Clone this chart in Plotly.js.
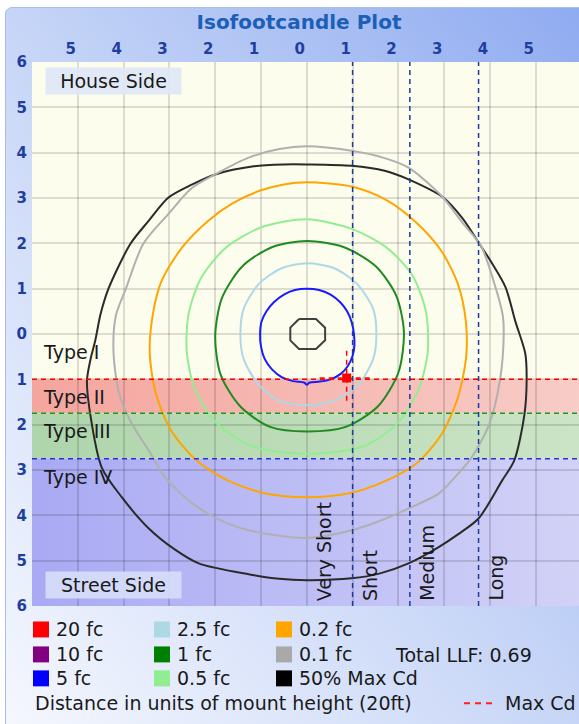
<!DOCTYPE html>
<html>
<head>
<meta charset="utf-8">
<script src="https://cdn.plot.ly/plotly-3.0.1.min.js"></script>
<style>
html,body{margin:0;padding:0;background:#ffffff;}
#wrap{position:relative;width:579px;height:724px;overflow:hidden;}
#frame{position:absolute;left:5px;top:7px;width:590px;height:730px;border:1px solid #a9bde9;border-radius:7px;
  background:linear-gradient(to top right,#f6f8fe 0%,#c6d5f7 50%,#8eaaf0 100%);}
#chart{position:absolute;left:0;top:0;width:579px;height:724px;}
</style>
</head>
<body>
<div id="wrap"><div id="frame"></div><div id="chart"></div></div>
<script>
// ---------------- data ----------------
const chartTitle = 'Isofootcandle Plot';
const gridVals  = [-6,-5,-4,-3,-2,-1,0,1,2,3,4,5,6];
const xTickText = ['','5','4','3','2','1','0','1','2','3','4','5',''];
const yTickText = ['6','5','4','3','2','1','0','1','2','3','4','5','6'];

// lateral classification (Type) boundaries, in mount heights (street side negative)
const typeNames  = ['Type I','Type II','Type III','Type IV'];
const typeTops   = [0, -1, -1.75, -2.75];
const typeBottoms= [-1, -1.75, -2.75, -6];
const typeLineColors = ['#ff0000','#1a9a1a','#2233dd'];
// longitudinal classification boundaries
const rangeNames = ['Very Short','Short','Medium','Long'];
const rangeStarts= [0, 1, 2.25, 3.75];

// iso-footcandle contours
const fc5X = [0,0.27,0.52,0.73,0.88,0.98,1.03,1.04,1.0,0.9,0.74,0.52,0.28,0.06,0,-0.06,-0.3,-0.55,-0.76,-0.92,-1.0,-1.02,-0.99,-0.88,-0.72,-0.5,-0.26,0];
const fc5Y = [1.0,0.97,0.87,0.7,0.5,0.26,0,-0.25,-0.48,-0.7,-0.88,-1.0,-1.05,-1.07,-1.12,-1.07,-1.04,-0.95,-0.78,-0.55,-0.28,0,0.27,0.5,0.7,0.87,0.97,1.0];

const fc25X = [0,0.6,1.1,1.45,1.52,1.45,1.12,0.6,0,-0.6,-1.05,-1.38,-1.45,-1.38,-1.05,-0.55,0];
const fc25Y = [1.56,1.45,1.1,0.55,0,-0.55,-1.12,-1.47,-1.57,-1.47,-1.12,-0.55,0,0.55,1.1,1.45,1.56];

const fc1X = [0,0.8,1.5,1.95,2.12,2.0,1.55,0.85,0,-0.8,-1.45,-1.88,-2.0,-1.85,-1.4,-0.75,0];
const fc1Y = [2.05,1.92,1.5,0.85,0.05,-0.85,-1.6,-2.05,-2.15,-2.05,-1.6,-0.9,-0.05,0.8,1.5,1.92,2.05];

const fc05X = [0,0.98,1.75,2.3,2.6,2.64,2.45,2.0,1.3,0.45,-0.45,-1.3,-2.0,-2.45,-2.62,-2.58,-2.3,-1.75,-0.95,0];
const fc05Y = [2.53,2.32,1.9,1.3,0.5,-0.4,-1.2,-1.95,-2.45,-2.62,-2.62,-2.43,-1.93,-1.2,-0.4,0.45,1.25,1.92,2.37,2.53];

const fc02X = [0,1.0,1.75,2.4,2.94,3.3,3.47,3.48,3.3,2.95,2.4,1.7,0.9,0,-0.9,-1.75,-2.45,-2.98,-3.3,-3.43,-3.35,-3.17,-2.73,-2.15,-1.64,-1.0,-0.5,0];
const fc02Y = [3.35,3.25,2.95,2.45,1.83,1.1,0.3,-0.5,-1.4,-2.2,-2.85,-3.25,-3.52,-3.6,-3.52,-3.22,-2.75,-2.1,-1.3,-0.4,0.5,1.17,1.9,2.5,2.87,3.17,3.3,3.35];

const fc01X = [0,0.98,1.7,2.22,2.94,3.4,3.8,4.12,4.28,4.3,4.22,3.98,3.58,3.17,2.88,2.22,1.6,0.98,0,-1.27,-2.0,-2.58,-3.1,-3.45,-3.82,-4.1,-4.22,-4.17,-3.95,-3.57,-3.02,-2.51,-1.93,-1.27,-0.6,0];
const fc01Y = [4.14,4.04,3.88,3.67,3.05,2.45,1.95,1.03,0.4,0,-1.0,-2.0,-2.75,-3.23,-3.52,-3.85,-4.12,-4.33,-4.5,-4.33,-4.05,-3.67,-3.15,-2.57,-1.98,-1.3,-0.4,0.4,1.0,1.99,2.65,3.22,3.56,3.89,4.08,4.14];

const cd50X = [0,0.98,1.7,2.22,2.98,3.4,3.75,4.05,4.34,4.55,4.77,4.8,4.75,4.53,4.26,3.75,3.3,2.88,2.22,1.6,0.98,0,-0.6,-1.27,-2.36,-2.9,-3.45,-4.04,-4.48,-4.73,-4.8,-4.72,-4.62,-4.5,-4.33,-3.85,-3.45,-3.02,-2.5,-2.0,-1.16,-0.5,0];
const cd50Y = [3.74,3.71,3.6,3.41,3.01,2.55,2.02,1.55,1.03,0.29,-0.43,-1.03,-1.79,-2.79,-3.24,-4.07,-4.42,-4.7,-5.06,-5.28,-5.39,-5.43,-5.4,-5.3,-5.06,-4.74,-4.29,-3.6,-2.94,-1.76,-1.03,-0.55,-0.15,0.45,1.0,1.99,2.5,3.01,3.3,3.52,3.7,3.74,3.74];

const innerX = [-0.17,0.2,0.4,0.4,0.2,-0.17,-0.36,-0.36,-0.17];
const innerY = [0.33,0.33,0.14,-0.14,-0.33,-0.33,-0.14,0.14,0.33];

const maxCdX = 0.87, maxCdY = -0.97;
const maxCdVX = [0.87,0.87], maxCdVY = [-0.37,-1.5];
const maxCdHX = [0.28,1.42], maxCdHY = [-0.97,-0.97];

const legendNames  = ['20 fc','10 fc','5 fc','2.5 fc','1 fc','0.5 fc','0.2 fc','0.1 fc','50% Max Cd'];
const legendColors = ['#ff0000','#800080','#0000ff','#add8e6','#008000','#90ee90','#ffa500','#a9a9a9','#000000'];
const totalLLF = 0.69;
const unitsNote = 'Distance in units of mount height (20ft)';
const maxCdLabel = 'Max Cd';

// ---------------- layout helpers ----------------
const L = 32, T = 61.5, W = 547, H = 545;
const px = v => (v - L) / W;
const py = v => (T + H - v) / H;
const FONT = 'DejaVu Sans';
const TXT = {family: FONT, size: 19, color: '#1a1a1a'};

function contour(x, y, color, width) {
  return {x: x, y: y, type: 'scatter', mode: 'lines', hoverinfo: 'skip', showlegend: false,
          line: {color: color, width: width, shape: 'spline', smoothing: 0.8}};
}

const traces = [
  contour(cd50X, cd50Y, '#2a2a2a', 2),
  contour(fc01X, fc01Y, '#b0b0b0', 2),
  contour(fc02X, fc02Y, '#ffa500', 2),
  contour(fc05X, fc05Y, '#90ee90', 2),
  contour(fc1X, fc1Y, '#1f8a1f', 2),
  contour(fc25X, fc25Y, '#add8e6', 2),
  contour(fc5X, fc5Y, '#1a1aff', 2),
  {x: innerX, y: innerY, type: 'scatter', mode: 'lines', hoverinfo: 'skip', showlegend: false,
   line: {color: '#404040', width: 2}},
  {x: maxCdVX, y: maxCdVY, type: 'scatter', mode: 'lines', hoverinfo: 'skip', showlegend: false,
   line: {color: '#ff0000', width: 1.5, dash: '5px,4px'}},
  {x: maxCdHX, y: maxCdHY, type: 'scatter', mode: 'lines', hoverinfo: 'skip', showlegend: false,
   line: {color: '#ff0000', width: 1.5, dash: '5px,4px'}},
  {x: [maxCdX], y: [maxCdY], type: 'scatter', mode: 'markers', hoverinfo: 'skip', showlegend: false,
   marker: {symbol: 'square', size: 9, color: '#ff0000'}}
];

// band colours (left -> right gradient)
const bandLeft  = ['#f4a59e','#aed5ab','#a9a9f4'];
const bandRight = ['#f8ccc7','#cbe4c6','#d2d2f7'];

const shapes = [];
for (let i = 1; i < typeNames.length; i++) {
  shapes.push({type: 'line', xref: 'paper', yref: 'y', x0: 0, x1: 1, y0: typeTops[i], y1: typeTops[i],
               line: {color: typeLineColors[i-1], width: 1.5, dash: '5px,4px'}, layer: 'above'});
}
for (let i = 1; i < rangeStarts.length; i++) {
  shapes.push({type: 'line', xref: 'x', yref: 'paper', x0: rangeStarts[i], x1: rangeStarts[i], y0: 0, y1: 1,
               line: {color: '#1a3aa0', width: 1.5, dash: '5px,4px'}, layer: 'above'});
}

// gradient band image
const bandTop = typeTops[1], bandBottom = typeBottoms[typeBottoms.length - 1];
const scale = 100;
let svg = "<svg xmlns='http://www.w3.org/2000/svg' width='100' height='" + ((bandTop - bandBottom) * scale) +
          "' viewBox='0 0 100 " + ((bandTop - bandBottom) * scale) + "' preserveAspectRatio='none'><defs>";
for (let i = 0; i < 3; i++) {
  svg += "<linearGradient id='g" + i + "' x1='0' y1='0' x2='1' y2='0'><stop offset='0' stop-color='" + bandLeft[i] +
         "'/><stop offset='1' stop-color='" + bandRight[i] + "'/></linearGradient>";
}
svg += "</defs>";
for (let i = 1; i < typeNames.length; i++) {
  svg += "<rect x='0' y='" + ((bandTop - typeTops[i]) * scale) + "' width='100' height='" +
         ((typeTops[i] - typeBottoms[i]) * scale) + "' fill='url(#g" + (i-1) + ")'/>";
}
svg += "</svg>";
const images = [{source: 'data:image/svg+xml;charset=utf-8,' + encodeURIComponent(svg),
  xref: 'paper', yref: 'y', x: 0, y: bandTop, sizex: 1, sizey: bandTop - bandBottom,
  sizing: 'stretch', xanchor: 'left', yanchor: 'top', layer: 'below'}];

const annotations = [];
for (let i = 0; i < typeNames.length; i++) {
  annotations.push({text: typeNames[i], xref: 'paper', yref: 'y', x: px(41), y: typeTops[i],
    xanchor: 'left', yanchor: 'top', yshift: -5, showarrow: false, font: TXT});
}
for (let i = 0; i < rangeNames.length; i++) {
  annotations.push({text: rangeNames[i], xref: 'x', yref: 'y', x: rangeStarts[i], y: -6,
    xanchor: 'left', yanchor: 'bottom', xshift: 4, yshift: 3, textangle: -90, showarrow: false, font: TXT});
}
annotations.push({text: 'House Side', xref: 'paper', yref: 'paper', x: px(113), y: py(80.5),
  xanchor: 'center', yanchor: 'middle', showarrow: false, width: 133, height: 24,
  bgcolor: 'rgba(224,231,246,0.92)', font: TXT});
annotations.push({text: 'Street Side', xref: 'paper', yref: 'paper', x: px(113), y: py(585.5),
  xanchor: 'center', yanchor: 'middle', showarrow: false, width: 133, height: 24,
  bgcolor: 'rgba(214,220,248,0.92)', font: TXT});

const legColX = [33, 154, 276];
const legRowY = [630, 655, 679];
for (let i = 0; i < legendNames.length; i++) {
  const c = Math.floor(i / 3), r = i % 3;
  shapes.push({type: 'rect', xref: 'paper', yref: 'paper',
    x0: px(legColX[c]), x1: px(legColX[c] + 16), y0: py(legRowY[r] + 8), y1: py(legRowY[r] - 8),
    fillcolor: legendColors[i], line: {width: 0}});
  annotations.push({text: legendNames[i], xref: 'paper', yref: 'paper', x: px(legColX[c] + 21), y: py(legRowY[r]),
    xanchor: 'left', yanchor: 'middle', showarrow: false, font: TXT});
}
annotations.push({text: 'Total LLF: ' + totalLLF.toFixed(2), xref: 'paper', yref: 'paper', x: px(393), y: py(656),
  xanchor: 'left', yanchor: 'middle', showarrow: false, font: TXT});
annotations.push({text: unitsNote, xref: 'paper', yref: 'paper', x: px(33), y: py(704),
  xanchor: 'left', yanchor: 'middle', showarrow: false, font: TXT});
annotations.push({text: maxCdLabel, xref: 'paper', yref: 'paper', x: px(503), y: py(704),
  xanchor: 'left', yanchor: 'middle', showarrow: false, font: TXT});
shapes.push({type: 'line', xref: 'paper', yref: 'paper', x0: px(464), x1: px(496), y0: py(704), y1: py(704),
  line: {color: '#ff2020', width: 2, dash: '6px,5px'}});

const layout = {
  width: 579, height: 724,
  margin: {l: L, r: 0, t: T, b: 724 - T - H, pad: 0},
  paper_bgcolor: 'rgba(0,0,0,0)',
  plot_bgcolor: '#fdfdee',
  showlegend: false,
  title: {text: '<b>' + chartTitle + '</b>', xref: 'container', yref: 'container', x: 299 / 579, y: 1 - 22 / 724,
          xanchor: 'center', yanchor: 'middle', font: {family: FONT, size: 20, color: '#1c5fb8'}},
  xaxis: {range: [-6, -6 + W / 45.8], side: 'top', tickvals: gridVals, ticktext: xTickText, ticks: '',
          ticklabelshift: -7, ticklabelstandoff: 4,
          showgrid: true, gridcolor: 'rgba(0,0,0,0.13)', gridwidth: 2, zeroline: false, showline: false, fixedrange: true,
          tickfont: {family: FONT, size: 15, color: '#1f3f9f', weight: 'bold'}},
  yaxis: {range: [-6, 6], tickvals: gridVals, ticktext: yTickText, ticks: '', ticklabelstandoff: 4,
          showgrid: true, gridcolor: 'rgba(0,0,0,0.13)', gridwidth: 2, zeroline: false, showline: false, fixedrange: true,
          tickfont: {family: FONT, size: 15, color: '#1f3f9f', weight: 'bold'}},
  shapes: shapes,
  images: images,
  annotations: annotations
};

Plotly.newPlot('chart', traces, layout, {staticPlot: true, displayModeBar: false});
</script>
</body>
</html>
